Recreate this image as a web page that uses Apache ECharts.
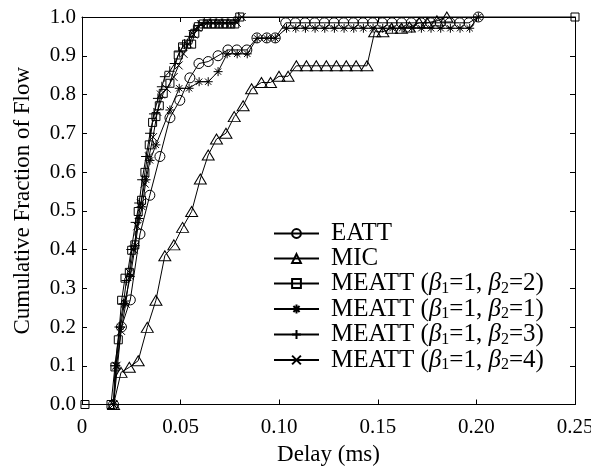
<!DOCTYPE html>
<html>
<head>
<meta charset="utf-8">
<script src="https://cdn.jsdelivr.net/npm/echarts@6/dist/echarts.min.js"></script>
<style>
  html, body { margin: 0; padding: 0; background: #fff; }
  #chart { width: 591px; height: 466px; }
</style>
</head>
<body>
<div id="chart"></div>
<script>
// [delay (ms), cumulative fraction]
var eatt = [
  [0.016, 0], [0.020, 0.20], [0.0245, 0.27], [0.0294, 0.44], [0.0344, 0.54],
  [0.0395, 0.64], [0.0446, 0.74], [0.0496, 0.785], [0.0547, 0.843], [0.0593, 0.88],
  [0.064, 0.885], [0.069, 0.90], [0.074, 0.915], [0.0785, 0.915], [0.0836, 0.915],
  [0.0887, 0.946], [0.0937, 0.946], [0.098, 0.946], [0.1033, 0.985], [0.1082, 0.985],
  [0.1131, 0.985], [0.118, 0.985], [0.1229, 0.985], [0.1278, 0.985], [0.1327, 0.985],
  [0.1376, 0.985], [0.1425, 0.985], [0.1474, 0.985], [0.1523, 0.985], [0.1572, 0.985],
  [0.1621, 0.985], [0.167, 0.985], [0.1719, 0.985], [0.1768, 0.985], [0.1817, 0.985],
  [0.1866, 0.985], [0.1915, 0.985], [0.1962, 0.985], [0.201, 1.0]
]
var mic = [
  [0.016, 0], [0.0198, 0.083], [0.024, 0.096], [0.0285, 0.113], [0.0331, 0.199],
  [0.0375, 0.269], [0.042, 0.384], [0.0466, 0.412], [0.051, 0.457], [0.0556, 0.498],
  [0.060, 0.582], [0.064, 0.644], [0.0682, 0.685], [0.073, 0.70], [0.0772, 0.743],
  [0.0817, 0.771], [0.086, 0.815], [0.091, 0.831], [0.0956, 0.831], [0.0999, 0.847],
  [0.1045, 0.847], [0.1087, 0.874], [0.1138, 0.874], [0.1188, 0.874], [0.1239, 0.874],
  [0.129, 0.874], [0.134, 0.874], [0.139, 0.874], [0.1445, 0.874], [0.1484, 0.962],
  [0.1526, 0.962], [0.157, 0.971], [0.162, 0.971], [0.166, 0.974], [0.171, 0.985],
  [0.175, 0.985], [0.180, 0.99], [0.185, 1.0]
]
var meatt2 = [
  [0.0015, 0], [0.0147, 0], [0.0167, 0.097], [0.0184, 0.167], [0.0201, 0.269],
  [0.0218, 0.326], [0.024, 0.341], [0.0252, 0.398], [0.0268, 0.412], [0.0285, 0.498],
  [0.0302, 0.527], [0.0319, 0.599], [0.0341, 0.67], [0.0358, 0.728], [0.0375, 0.743],
  [0.0392, 0.771], [0.0412, 0.803], [0.0446, 0.829], [0.0488, 0.902], [0.051, 0.923],
  [0.053, 0.93], [0.0556, 0.93], [0.0572, 0.958], [0.059, 0.975], [0.0615, 0.982],
  [0.0635, 0.982], [0.0655, 0.982], [0.0675, 0.982], [0.0695, 0.982], [0.0715, 0.982],
  [0.0735, 0.982], [0.0755, 0.982], [0.0775, 0.982], [0.080, 1.0], [0.25, 1.0]
]
var meatt1 = [
  [0.016, 0], [0.0172, 0.1], [0.0195, 0.2], [0.0215, 0.26], [0.0245, 0.33],
  [0.027, 0.41], [0.029, 0.48], [0.0305, 0.51], [0.0325, 0.58], [0.0345, 0.63],
  [0.0375, 0.67], [0.0446, 0.76], [0.0493, 0.816], [0.0543, 0.816], [0.0594, 0.833],
  [0.064, 0.833], [0.069, 0.859], [0.0736, 0.905], [0.0787, 0.905], [0.0838, 0.905],
  [0.0888, 0.945], [0.0937, 0.945], [0.098, 0.945], [0.1037, 0.971], [0.1084, 0.971],
  [0.1133, 0.971], [0.1182, 0.971], [0.1231, 0.971], [0.128, 0.971], [0.1329, 0.971],
  [0.1378, 0.971], [0.1427, 0.971], [0.1476, 0.971], [0.1525, 0.971], [0.1574, 0.971],
  [0.1623, 0.971], [0.1672, 0.971], [0.1721, 0.971], [0.177, 0.971], [0.1819, 0.971],
  [0.1868, 0.971], [0.1917, 0.971], [0.1966, 0.971], [0.201, 1.0]
]
var meatt3 = [
  [0.016, 0], [0.0168, 0.1], [0.019, 0.2], [0.021, 0.26], [0.0225, 0.32],
  [0.025, 0.40], [0.0272, 0.47], [0.029, 0.52], [0.0305, 0.58], [0.0325, 0.64],
  [0.0345, 0.70], [0.0365, 0.75], [0.0385, 0.79], [0.0405, 0.82], [0.042, 0.846],
  [0.0445, 0.86], [0.047, 0.88], [0.0495, 0.91], [0.052, 0.93], [0.0545, 0.95],
  [0.0565, 0.965], [0.059, 0.978], [0.062, 0.985], [0.065, 0.985], [0.068, 0.985],
  [0.071, 0.985], [0.074, 0.985], [0.077, 0.985], [0.0795, 1.0]
]
var meatt4 = [
  [0.016, 0], [0.0175, 0.1], [0.0198, 0.19], [0.0222, 0.26], [0.0242, 0.34],
  [0.0262, 0.40], [0.028, 0.46], [0.0298, 0.52], [0.0318, 0.57], [0.034, 0.64],
  [0.036, 0.69], [0.0382, 0.755], [0.040, 0.80], [0.043, 0.815], [0.0465, 0.845],
  [0.049, 0.875], [0.0515, 0.905], [0.054, 0.93], [0.0565, 0.955], [0.0585, 0.972],
  [0.0605, 0.982], [0.0635, 0.985], [0.0665, 0.985], [0.0695, 0.985], [0.0725, 0.985],
  [0.0755, 0.985], [0.0785, 0.985], [0.081, 1.0]
]
var xTicks = ['0', '0.05', '0.10', '0.15', '0.20', '0.25']
var yTicks = ['0.0', '0.1', '0.2', '0.3', '0.4', '0.5', '0.6', '0.7', '0.8', '0.9', '1.0']

var FONT = '"Liberation Serif", "DejaVu Serif", serif'
var PLUS = 'path://M5,0L5,10M0,5L10,5'
var CROSS = 'path://M0,0L10,10M10,0L0,10'
var STAR = 'path://M5,0L5,10M0,5L10,5M1.5,1.5L8.5,8.5M8.5,1.5L1.5,8.5'

function makeSeries(name, data, symbol, size) {
  return {
    name: name,
    type: 'line',
    data: data,
    symbol: symbol,
    symbolSize: size,
    clip: false,
    lineStyle: { color: '#000', width: 1 },
    itemStyle: { color: 'rgba(0,0,0,0)', borderColor: '#000', borderWidth: 1 },
    emphasis: { disabled: true }
  }
}

function legendText(name) {
  var m = name.match(/^MEATT \(β1=(\d), β2=(\d)\)$/)
  if (!m) return name
  return 'MEATT ({it|β}{sub|1}{n|=' + m[1] + ', }{it|β}{sub|2}{n|=' + m[2] + ')}'
}

var chart = echarts.init(document.getElementById('chart'))
var axisCommon = {
  type: 'value',
  axisLine: { show: true, onZero: false, lineStyle: { color: '#000', width: 1 } },
  axisTick: { show: true, inside: true, length: 5, lineStyle: { color: '#000' } },
  splitLine: { show: false }
}
var option = {
  animation: false,
  backgroundColor: '#fff',
  grid: { left: 82, right: 16, top: 17, bottom: 61.5, outerBoundsMode: 'none', containLabel: false },
  legend: {
    orient: 'vertical',
    left: 273,
    top: 221,
    padding: 0,
    itemWidth: 45,
    itemHeight: 11,
    itemGap: 0,
    selectedMode: false,
    data: ['EATT', 'MIC', 'MEATT (β1=1, β2=2)', 'MEATT (β1=1, β2=1)', 'MEATT (β1=1, β2=3)', 'MEATT (β1=1, β2=4)'],
    formatter: legendText,
    textStyle: {
      fontFamily: FONT,
      fontSize: 25,
      color: '#000',
      lineHeight: 23.5,
      padding: [0, 0, 0, 7],
      rich: {
        n: { fontFamily: FONT, fontSize: 25, color: '#000' },
        it: { fontFamily: FONT, fontSize: 25, fontStyle: 'italic', color: '#000' },
        sub: { fontFamily: FONT, fontSize: 16, color: '#000', padding: [10, 0, 0, 0] }
      }
    }
  },
  xAxis: [
    Object.assign({}, axisCommon, {
      position: 'bottom',
      min: 0, max: 0.25, interval: 0.05,
      axisLabel: {
        fontFamily: FONT, fontSize: 21, color: '#000', margin: 12,
        formatter: function (v) { return xTicks[Math.round(v / 0.05)] }
      },
      name: 'Delay (ms)',
      nameLocation: 'middle',
      nameGap: 39,
      nameTextStyle: { fontFamily: FONT, fontSize: 23, color: '#000' }
    }),
    Object.assign({}, axisCommon, {
      position: 'top',
      min: 0, max: 0.25, interval: 0.05,
      axisLabel: { show: false }
    })
  ],
  yAxis: [
    Object.assign({}, axisCommon, {
      position: 'left',
      min: 0, max: 1, interval: 0.1,
      axisLabel: {
        fontFamily: FONT, fontSize: 21, color: '#000', margin: 6,
        formatter: function (v) { return yTicks[Math.round(v * 10)] }
      },
      name: 'Cumulative Fraction of Flow',
      nameLocation: 'middle',
      nameRotate: 90,
      nameGap: 48,
      nameTextStyle: { fontFamily: FONT, fontSize: 23, color: '#000', padding: [0, 0, 0, 20] }
    }),
    Object.assign({}, axisCommon, {
      position: 'right',
      min: 0, max: 1, interval: 0.1,
      axisLabel: { show: false }
    })
  ],
  series: [
    makeSeries('EATT', eatt, 'circle', 10),
    makeSeries('MIC', mic, 'triangle', [12, 10]),
    makeSeries('MEATT (β1=1, β2=2)', meatt2, 'rect', 8),
    makeSeries('MEATT (β1=1, β2=1)', meatt1, STAR, 9),
    makeSeries('MEATT (β1=1, β2=3)', meatt3, PLUS, 10),
    makeSeries('MEATT (β1=1, β2=4)', meatt4, CROSS, 8)
  ]
}
chart.setOption(option)
</script>
</body>
</html>
